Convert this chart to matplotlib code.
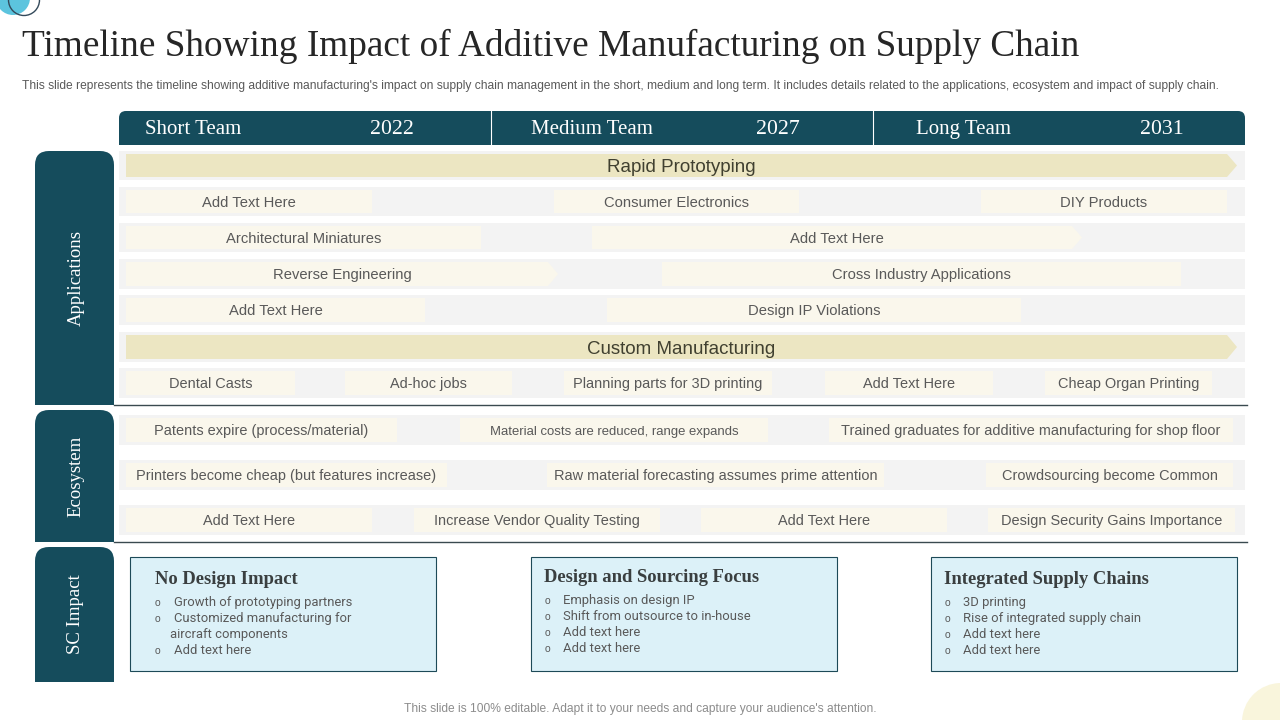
import matplotlib
matplotlib.use("Agg")
import matplotlib.pyplot as plt
from matplotlib.patches import Rectangle, Circle, PathPatch, Polygon
from matplotlib.path import Path

TEAL = "#154c5c"
BAND = "#f3f3f3"
CREAM = "#faf7ec"
KHAKI = "#ece6c2"
BLUE = "#dcf1f8"
SERIF = "Liberation Serif"
SANS = "Liberation Sans"

title = "Timeline Showing Impact of Additive Manufacturing on Supply Chain"
subtitle = ("This slide represents the timeline showing additive manufacturing's impact on supply chain "
            "management in the short, medium and long term. It includes details related to the applications, "
            "ecosystem and impact of supply chain.")
footer = "This slide is 100% editable. Adapt it to your needs and capture your audience's attention."

phases = ["Short Team", "Medium Team", "Long Team"]
years = ["2022", "2027", "2031"]
side_labels = ["Applications", "Ecosystem", "SC Impact"]

row_labels = [
    ["Rapid Prototyping"],
    ["Add Text Here", "Consumer Electronics", "DIY Products"],
    ["Architectural Miniatures", "Add Text Here"],
    ["Reverse Engineering", "Cross Industry Applications"],
    ["Add Text Here", "Design IP Violations"],
    ["Custom Manufacturing"],
    ["Dental Casts", "Ad-hoc jobs", "Planning parts for 3D printing", "Add Text Here", "Cheap Organ Printing"],
    ["Patents expire (process/material)", "Material costs are reduced, range expands",
     "Trained graduates for additive manufacturing for shop floor"],
    ["Printers become cheap (but features increase)", "Raw material forecasting assumes prime attention",
     "Crowdsourcing become Common"],
    ["Add Text Here", "Increase Vendor Quality Testing", "Add Text Here", "Design Security Gains Importance"],
]

box_titles = ["No Design Impact", "Design and Sourcing Focus", "Integrated Supply Chains"]
box_items = [
    ["Growth of prototyping partners", "Customized manufacturing for", "aircraft components", "Add text here"],
    ["Emphasis on design IP", "Shift from outsource to in-house", "Add text here", "Add text here"],
    ["3D printing", "Rise of integrated supply chain", "Add text here", "Add text here"],
]

# layout in slide pixels
row_y = [(151, 180), (187, 216), (223, 252), (259, 289), (295, 325), (332, 362), (368, 398),
         (415, 445), (460, 490), (505, 535)]
row_spans = [
    [(126, 1237)],
    [(126, 372), (554, 799), (981, 1227)],
    [(126, 481), (592, 1082)],
    [(126, 558), (662, 1181)],
    [(126, 425), (607, 1021)],
    [(126, 1237)],
    [(126, 295), (345, 512), (564, 772), (825, 993), (1045, 1212)],
    [(126, 397), (460, 768), (829, 1233)],
    [(126, 447), (547, 884), (986, 1233)],
    [(126, 372), (414, 660), (701, 947), (988, 1235)],
]
arrows = [(0, 0), (2, 1), (3, 0), (5, 0)]
side_y = [(151, 405), (410, 542), (547, 682)]
box_x = [(130, 436), (531, 837), (931, 1237)]
phase_x = [193, 592, 963]
year_x = [392, 778, 1162]


def top_rounded(x0, x1, y0, y1, r):
    verts = [(x0, y1), (x0, y0 + r), (x0, y0), (x0 + r, y0), (x1 - r, y0), (x1, y0), (x1, y0 + r), (x1, y1), (x0, y1)]
    codes = [Path.MOVETO, Path.LINETO, Path.CURVE3, Path.CURVE3, Path.LINETO, Path.CURVE3, Path.CURVE3,
             Path.LINETO, Path.CLOSEPOLY]
    return PathPatch(Path(verts, codes), fc=TEAL, ec="none")


def label_size(i, label, big):
    if big:
        return 13.5
    if label.startswith("Material costs"):
        return 9.45
    return 10.45 if i >= 6 else 10.65


fig = plt.figure(figsize=(12.8, 7.2), dpi=100)
ax = fig.add_axes([0, 0, 1, 1])
ax.set_xlim(0, 1280)
ax.set_ylim(720, 0)
ax.axis("off")

# corner decorations
ax.add_patch(Circle((13, -2), 17, fc="#5cc4de", ec="none"))
ax.add_patch(Circle((24, 0), 15.5, fc="none", ec="#33495a", lw=1))
ax.add_patch(Circle((1281, 722), 39, fc="#f9f5dc", ec="none"))

ax.text(22, 56, title, family=SERIF, fontsize=26.8, color="#262626", va="baseline", ha="left")
ax.text(22, 89, subtitle, family=SANS, fontsize=8.68, color="#595959", va="baseline", ha="left")
ax.text(640, 712, footer, family=SANS, fontsize=8.68, color="#8c8c8c", va="baseline", ha="center")

# header strip
ax.add_patch(top_rounded(119, 1245, 111, 145, 7))
for x in [491, 873]:
    ax.plot([x, x], [111, 145], color="white", lw=0.8)
for name, x in zip(phases, phase_x):
    ax.text(x, 134, name, family=SERIF, fontsize=15, color="white", va="baseline", ha="center")
for year, x in zip(years, year_x):
    ax.text(x, 134, year, family=SERIF, fontsize=15.7, color="white", va="baseline", ha="center")

# side panels
for label, (y0, y1) in zip(side_labels, side_y):
    ax.add_patch(top_rounded(35, 114, y0, y1, 14))
    ax.text(76, (y0 + y1) / 2, label, family=SERIF, fontsize=13.5, color="white",
            rotation=90, va="center", ha="center")

# timeline rows
for i, ((y0, y1), spans, labels) in enumerate(zip(row_y, row_spans, row_labels)):
    ax.add_patch(Rectangle((119, y0), 1126, y1 - y0, fc=BAND, ec="none"))
    big = len(labels) == 1
    top, bot = y0 + 3, y1 - 3
    mid = (y0 + y1) / 2
    for j, ((x0, x1), label) in enumerate(zip(spans, labels)):
        fc = KHAKI if big else CREAM
        if (i, j) in arrows:
            ax.add_patch(Polygon([(x0, top), (x1 - 10, top), (x1, mid), (x1 - 10, bot), (x0, bot)], fc=fc, ec="none"))
        else:
            ax.add_patch(Rectangle((x0, top), x1 - x0, bot - top, fc=fc, ec="none"))
        size = label_size(i, label, big)
        ax.text((x0 + x1) / 2, mid + 0.36 * size / 0.72, label, family=SANS, fontsize=size,
                color="#404030" if big else "#595959", va="baseline", ha="center")

for y in [405, 542]:
    ax.plot([114, 1247], [y, y], color="#3a4a50", lw=1)

# impact boxes
for k, ((x0, x1), head, items) in enumerate(zip(box_x, box_titles, box_items)):
    ax.add_patch(Rectangle((x0, 557), x1 - x0, 114, fc=BLUE, ec="#1d4a58", lw=0.8))
    head_x = x0 + 25 if k == 0 else x0 + 13
    head_y = 582 if k == 1 else 584
    ax.text(head_x, head_y, head, family=SERIF, fontsize=13.4, weight="bold", color="#3a3f40", va="baseline", ha="left")
    y = 606 if k != 1 else 604
    bullet_x = x0 + 27 if k == 0 else x0 + 16
    item_x = x0 + 44 if k == 0 else x0 + 32
    for item in items:
        if item == "aircraft components":
            ax.text(x0 + 40, y, item, family="Roboto", fontsize=9.35, color="#595959", va="baseline", ha="left")
        else:
            ax.text(bullet_x, y, "o", family=SANS, fontsize=7.5, color="#595959", va="baseline", ha="center")
            ax.text(item_x, y, item, family="Roboto", fontsize=9.35, color="#595959", va="baseline", ha="left")
        y += 16

fig.savefig("out.png", dpi=100)
